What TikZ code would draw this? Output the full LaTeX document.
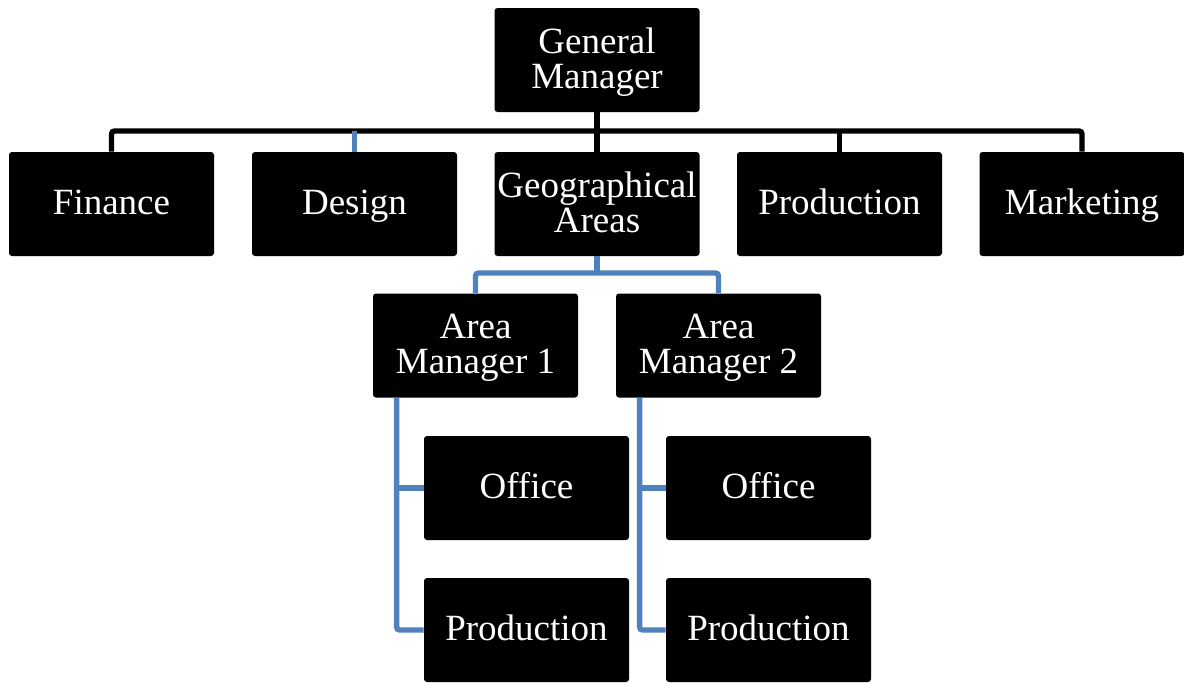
\documentclass[tikz,border=0pt]{standalone}
\usepackage{fontspec}
\setmainfont{Liberation Serif}
\definecolor{orgblue}{RGB}{79,129,189}
\begin{document}
\begin{tikzpicture}[x=0.5pt, y=-0.5pt,
    box/.style={fill=black, text=white, rounded corners=1.5pt, minimum width=102.5pt,
        minimum height=52pt, inner sep=0pt, align=center,
        text height=14.6pt, text depth=3.9pt,
        font=\fontsize{18.5}{17.5}\selectfont},
    twoline/.style={text height=32.1pt},
    blackline/.style={line width=2.7pt, black, rounded corners=1.5pt},
    blueline/.style={line width=2.7pt, orgblue, rounded corners=1.5pt}]
    \useasboundingbox (0,0) rectangle (1184,682);
    % Top of the chart
    \node[box, twoline] (gm) at (597,60) {General\\Manager};
    \node[box] (fin) at (111.5,204) {Finance};
    \node[box] (des) at (354.5,204) {Design};
    \node[box, twoline] (geo) at (597,204) {Geographical\\Areas};
    \node[box] (pro) at (839.5,204) {Production};
    \node[box] (mkt) at (1082,204) {Marketing};
    % Area managers and their units
    \node[box, twoline] (am1) at (475.5,345.5) {Area\\Manager 1};
    \node[box, twoline] (am2) at (718.5,345.5) {Area\\Manager 2};
    \node[box] (off1) at (526.5,488) {Office};
    \node[box] (pro1) at (526.5,630) {Production};
    \node[box] (off2) at (768.5,488) {Office};
    \node[box] (pro2) at (768.5,630) {Production};
    \coordinate (bus) at (597,131);
    \coordinate (geobus) at (597,273);
    \coordinate (trunk1) at ([xshift=12pt]am1.south west);
    \coordinate (trunk2) at ([xshift=12pt]am2.south west);
    % Lines from the general manager
    \draw[blackline] (fin.north) |- (bus) -| (mkt.north);
    \draw[blackline] (gm.south) -- (geo.north);
    \draw[blackline] (pro.north) -- (pro.north |- bus);
    \draw[blueline] (des.north) -- (des.north |- bus);
    % Lines below the areas
    \draw[blueline] (geo.south) -- (geobus);
    \draw[blueline] (am1.north) |- (geobus) -| (am2.north);
    \draw[blueline] (trunk1) |- (pro1.west);
    \draw[blueline] (off1.west) -- (off1.west -| trunk1);
    \draw[blueline] (trunk2) |- (pro2.west);
    \draw[blueline] (off2.west) -- (off2.west -| trunk2);
\end{tikzpicture}
\end{document}
